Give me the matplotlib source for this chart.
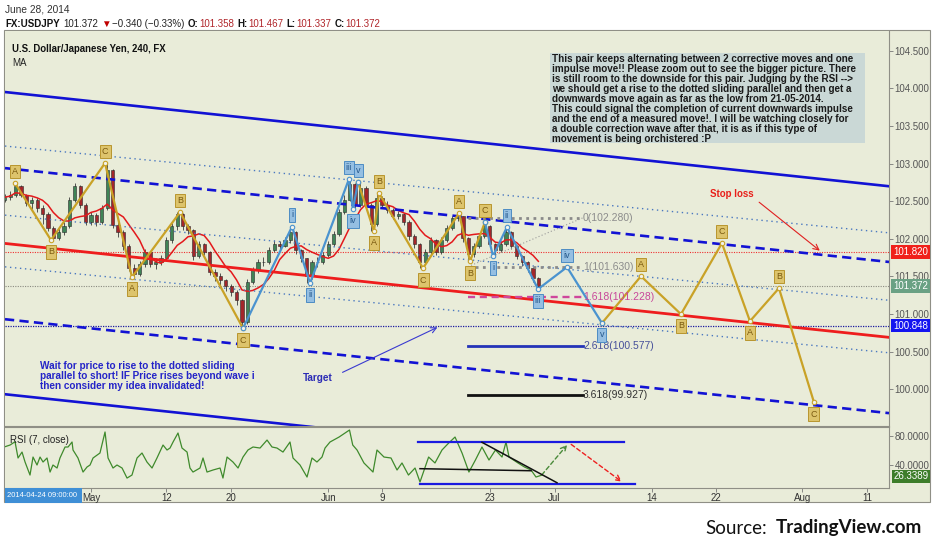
import numpy as np
import pandas as pd
import matplotlib
matplotlib.use("Agg")
import matplotlib.pyplot as plt
from matplotlib.patches import Rectangle

plt.rcParams['font.family'] = ['Liberation Sans', 'DejaVu Sans']

W, H = 932, 550
BG = '#e9ecd9'

# 12h candles, x = trading days from 2014-05-01
first_open = 102.52
closes = [
    102.554, 102.581, 102.701, 102.581, 102.475, 102.515, 102.408, 102.328, 102.142, 102.009,
    102.089, 102.169, 102.515, 102.701, 102.448, 102.222, 102.315, 102.222, 102.408, 102.914,
    102.182, 102.089, 101.903, 101.610, 101.531, 101.664, 101.823, 101.664, 101.690, 101.743,
    101.983, 102.169, 102.328, 102.169, 102.116, 101.770, 101.929, 101.823, 101.557, 101.504,
    101.451, 101.371, 101.291, 101.185, 100.892, 101.424, 101.584, 101.690, 101.690, 101.850,
    101.929, 101.903, 101.983, 102.089, 101.850, 101.743, 101.504, 101.690, 101.690, 101.783,
    101.929, 102.062, 102.355, 102.515, 102.727, 102.448, 102.674, 102.448, 102.195, 102.541,
    102.448, 102.382, 102.302, 102.328, 102.222, 102.036, 101.929, 101.690, 101.823, 101.983,
    101.823, 101.983, 102.142, 102.275, 102.302, 102.009, 101.797, 101.903, 102.036, 102.169,
    101.929, 101.850, 101.929, 102.089, 101.903, 101.770, 101.690, 101.610, 101.477, 101.372]
highs = [
    102.60, 102.64, 102.74, 102.72, 102.60, 102.56, 102.54, 102.45, 102.36, 102.17,
    102.14, 102.22, 102.55, 102.74, 102.71, 102.47, 102.36, 102.34, 102.45, 103.01,
    102.93, 102.22, 102.12, 101.93, 101.66, 101.70, 101.87, 101.84, 101.74, 101.79,
    102.02, 102.21, 102.36, 102.34, 102.20, 102.13, 101.97, 101.95, 101.84, 101.60,
    101.55, 101.47, 101.40, 101.32, 101.20, 101.46, 101.62, 101.73, 101.76, 101.89,
    101.98, 101.97, 102.03, 102.16, 102.10, 101.87, 101.75, 101.72, 101.76, 101.82,
    101.97, 102.10, 102.39, 102.58, 102.79, 102.74, 102.75, 102.70, 102.47, 102.61,
    102.57, 102.50, 102.41, 102.37, 102.35, 102.25, 102.06, 101.94, 101.86, 102.02,
    102.00, 102.02, 102.18, 102.31, 102.34, 102.31, 102.03, 101.94, 102.08, 102.22,
    102.18, 101.95, 101.97, 102.16, 102.10, 101.92, 101.79, 101.71, 101.63, 101.49]
lows = [
    102.49, 102.52, 102.56, 102.55, 102.43, 102.40, 102.36, 102.20, 102.10, 101.98,
    101.99, 102.05, 102.15, 102.49, 102.41, 102.18, 102.19, 102.17, 102.20, 102.38,
    102.14, 102.02, 101.85, 101.57, 101.49, 101.50, 101.63, 101.62, 101.60, 101.65,
    101.72, 101.95, 102.12, 102.12, 102.06, 101.72, 101.75, 101.78, 101.52, 101.44,
    101.39, 101.31, 101.24, 101.12, 100.81, 100.87, 101.40, 101.55, 101.64, 101.67,
    101.83, 101.86, 101.89, 101.95, 101.80, 101.69, 101.41, 101.47, 101.63, 101.66,
    101.76, 101.90, 102.04, 102.33, 102.50, 102.39, 102.42, 102.40, 102.10, 102.17,
    102.41, 102.34, 102.26, 102.27, 102.18, 101.99, 101.88, 101.61, 101.66, 101.80,
    101.78, 101.80, 101.96, 102.12, 102.24, 101.96, 101.70, 101.76, 101.88, 102.01,
    101.89, 101.77, 101.82, 101.91, 101.86, 101.73, 101.64, 101.56, 101.42, 101.337]

rsi_days = [
    -7.98, -7.51, -7.05, -6.77, -6.40, -6.12, -5.66, -5.38, -5.01, -4.73, -4.45, -4.08, -3.80, -3.53,
    -3.15, -2.88, -2.41, -2.13, -1.76, -1.67, -1.21, -0.74, -0.37, -0.09, 0.19, 0.83, 1.30, 1.58,
    2.04, 2.41, 2.88, 3.34, 3.80, 4.27, 4.73, 5.19, 5.66, 6.12, 6.68, 7.05, 7.33, 7.61, 8.07, 8.44,
    8.91, 9.18, 9.46, 10.11, 10.39, 10.76, 11.32, 11.97, 12.24, 12.62, 13.17, 13.64, 14.10, 14.56,
    15.03, 15.68, 16.33, 16.79, 17.25, 17.81, 18.46, 18.74, 19.39, 20.04, 20.50, 20.96, 21.43, 21.71,
    22.17, 23.01, 23.98, 24.28, 24.68, 25.32, 26.16, 26.53, 27.18, 27.83, 28.39, 28.85, 29.45, 30.06,
    30.52, 31.32, 31.91, 32.56, 33.18, 33.77, 34.42, 35.06, 35.66, 36.27, 36.92, 37.52, 38.13, 38.50,
    38.78, 39.61, 40.21, 40.82, 41.28, 41.84]
rsi_vals = [
    65.0, 67.3, 71.8, 49.6, 57.7, 44.1, 26.3, 50.9, 40.0, 50.9, 44.1, 49.6, 30.4, 40.0,
    35.9, 49.6, 64.6, 64.6, 71.4, 60.5, 49.6, 30.4, 37.3, 40.0, 49.6, 56.4, 85.1, 49.6,
    35.9, 40.0, 35.9, 22.2, 26.3, 49.6, 56.4, 44.1, 35.9, 49.6, 67.3, 60.5, 63.2, 71.4, 83.7, 63.2,
    57.7, 35.9, 30.4, 35.9, 49.6, 30.4, 33.2, 35.9, 22.2, 50.9, 44.1, 35.9, 50.9, 60.5,
    64.6, 63.2, 74.1, 64.6, 63.2, 57.7, 71.4, 49.6, 40.0, 23.6, 49.6, 44.1, 50.9, 63.2,
    71.4, 78.2, 87.8, 67.3, 60.5, 42.8, 30.4, 60.5, 50.9, 49.6, 33.2, 42.8, 26.3, 35.9,
    16.8, 50.9, 42.8, 60.5, 70.0, 78.2, 56.4, 30.4, 46.8, 64.6, 46.8, 60.5, 50.9, 71.4,
    50.9, 42.8, 37.3, 33.2, 23.6, 26.3]

tick_dates = ['2014-05-01', '2014-05-12', '2014-05-20', '2014-06-02', '2014-06-09', '2014-06-23',
              '2014-07-01', '2014-07-14', '2014-07-22', '2014-08-01', '2014-08-11']
tick_names = ['May', '12', '20', 'Jun', '9', '23', 'Jul', '14', '22', 'Aug', '11']

# elliott waves: (day, price, label, side)
gold_1 = [(-7.05, 102.740, 'A', 1), (-3.71, 101.983, 'B', -1), (1.30, 103.007, 'C', 1),
          (3.80, 101.491, 'A', -1), (8.26, 102.355, 'B', 1), (14.10, 100.812, 'C', -1)]
blue_1 = [(14.10, 100.812, '', 0), (18.65, 102.163, 'i', 1), (20.32, 101.411, 'ii', -1),
          (23.93, 102.794, 'iii', 1), (24.30, 102.395, 'iv', -1), (24.77, 102.754, 'v', 1)]
gold_2 = [(24.77, 102.754, '', 0), (26.25, 102.102, 'A', -1), (26.72, 102.607, 'B', 1),
          (30.80, 101.610, 'C', -1), (34.14, 102.341, 'A', 1), (35.16, 101.703, 'B', -1),
          (36.55, 102.222, 'C', 1)]
blue_2 = [(36.55, 102.222, '', 0), (37.29, 101.770, 'i', -1), (38.59, 102.156, 'ii', 1),
          (41.47, 101.332, 'iii', -1), (44.16, 101.625, 'iv', 1), (47.40, 100.880, 'v', -1)]
gold_3 = [(47.40, 100.880, '', 0), (51.02, 101.504, 'A', 1), (54.73, 100.999, 'B', -1),
          (58.53, 101.943, 'C', 1), (61.13, 100.906, 'A', -1), (63.82, 101.344, 'B', 1),
          (67.07, 99.828, 'C', -1)]

# channel lines (price at left edge, price at right edge)
x0, x1 = -7.98, 74.03
solid_blue = [(103.951, 102.699), (99.935, 98.683)]
dashed_blue = [(102.940, 101.693), (100.932, 99.684)]
red_line = (101.939, 100.691)
dotted_lines = [(103.233, 102.080), (102.315, 101.184), (101.628, 100.486)]

fib_levels = [102.280, 101.630, 101.228, 100.577, 99.927]
fib_names = ['0', '1', '1.618', '2.618', '3.618']
fib_colors = ['#8a8a8a', '#8a8a8a', '#cf479c', '#2433b8', '#111111']
fib_text_colors = ['#8c8c8c', '#8c8c8c', '#c8479a', '#46509a', '#333333']
fib_start, fib_end = 34.97, 45.64

last_price, ma_price, level_price = 101.372, 101.820, 100.848

days = -8 + 0.5 * np.arange(len(closes))
opens = [first_open] + closes[:-1]
ma = pd.Series(closes).rolling(7, min_periods=1).mean()

fig = plt.figure(figsize=(W / 100, H / 100), dpi=100, facecolor='white')
fig.add_artist(Rectangle((4 / W, 1 - 502 / H), 926 / W, 472 / H, transform=fig.transFigure,
                         fc=BG, ec='#8f8f86', lw=0.8, zorder=-1))

ax = fig.add_axes([5 / W, 1 - 426 / H, 884 / W, 395 / H])
rx = fig.add_axes([5 / W, 1 - 487.5 / H, 884 / W, 61 / H], sharex=ax)
for a in (ax, rx):
    a.set_facecolor(BG)
    a.spines['left'].set_visible(False)
    for s in ('right', 'bottom', 'top'):
        a.spines[s].set_color('#8f8f86')
        a.spines[s].set_linewidth(0.8)
ax.spines['top'].set_visible(False)
ax.set_xlim(x0, x1)
ax.set_ylim(99.513, 104.762)
rx.set_ylim(9.3, 92.6)

# candles
for d, o, c, hi, lo in zip(days, opens, closes, highs, lows):
    up = c >= o
    ax.vlines(d, lo, hi, color='#3b3b3b', lw=0.6, zorder=3)
    ax.bar(d, max(abs(c - o), 0.006), bottom=min(o, c), width=0.3,
           color='#3f8456' if up else '#a3262a', edgecolor='#2a2a2a', lw=0.4, zorder=3)
ax.plot(days, ma, color='#e3191c', lw=1.1, zorder=4)

# horizontal levels
ax.axhline(ma_price, color='#ee3030', lw=0.8, dashes=(1, 1.2), zorder=2)
ax.axhline(last_price, color='#8a8a80', lw=0.8, dashes=(1, 1.2), zorder=2)
ax.axhline(level_price, color='#1a1aa0', lw=0.9, dashes=(1, 1), zorder=2)

# channels
for p0, p1 in solid_blue:
    ax.plot([x0, x1], [p0, p1], color='#1212d4', lw=1.9, zorder=4)
for p0, p1 in dashed_blue:
    ax.plot([x0, x1], [p0, p1], color='#1212d4', lw=1.9, dashes=(3.5, 2), zorder=4)
ax.plot([x0, x1], list(red_line), color='#ee1d1d', lw=2.0, zorder=4)
for p0, p1 in dotted_lines:
    ax.plot([x0, x1], [p0, p1], color='#4a78c0', lw=1.0, dashes=(1, 2.6), zorder=4)

# fib extension
ax.plot([fib_start, fib_end], [fib_levels[1], fib_levels[0]], color='#9a9a9a', lw=0.8,
        dashes=(1, 2), zorder=4)
for lv, nm, col, tcol in zip(fib_levels, fib_names, fib_colors, fib_text_colors):
    if nm in ('0', '1'):
        ax.plot([fib_start, fib_end], [lv, lv], color=col, lw=2.0, dashes=(1, 1.6), zorder=4)
    elif nm == '1.618':
        ax.plot([fib_start, fib_end], [lv, lv], color=col, lw=1.7, dashes=(3, 2), zorder=4)
    else:
        ax.plot([fib_start, fib_end], [lv, lv], color=col, lw=2.0, zorder=4)
    ax.text(fib_end, lv, f'{nm}({lv:.3f})', color=tcol, fontsize=7.5, va='center', ha='left', zorder=6)

# waves
def draw_wave(pts, line_col, fc, ec, tc):
    xs = [p[0] for p in pts]
    ys = [p[1] for p in pts]
    ax.plot(xs, ys, color=line_col, lw=1.6, zorder=5)
    ax.plot(xs, ys, 'o', ms=3.2, mfc='#f2f2ea', mec=line_col, mew=0.8, zorder=6)
    for d, p, lab, side in pts:
        if lab:
            ax.annotate(lab, (d, p), xytext=(0, 8.5 * side), textcoords='offset points',
                        ha='center', va='center', fontsize=6.5, color=tc, zorder=7,
                        bbox=dict(boxstyle='square,pad=0.25', fc=fc, ec=ec, lw=0.7))

for w in (gold_1, gold_2, gold_3):
    draw_wave(w, '#c9a227', '#ddc46c', '#b8952e', '#7a5a10')
for w in (blue_1, blue_2):
    draw_wave(w, '#4a93cf', '#95bfe2', '#4d8cc4', '#24578a')

# arrows and notes
ax.annotate('', xy=(67.81, 101.82), xytext=(61.78, 102.51), zorder=6,
            arrowprops=dict(arrowstyle='->', color='#e02020', lw=0.8))
ax.text(59.46, 102.60, 'Stop loss', color='#e8201a', fontsize=7, fontweight='bold',
        ha='center', va='center', zorder=6)
ax.annotate('', xy=(32.37, 100.84), xytext=(23.1, 100.21), zorder=6,
            arrowprops=dict(arrowstyle='->', color='#3a3ad0', lw=0.8))
ax.text(21.06, 100.146, 'Target', color='#2b2bb5', fontsize=7.2, fontweight='bold',
        ha='center', va='center', zorder=6)
ax.text(-4.73, 100.38, 'Wait for price to rise to the dotted sliding\nparallel to short! IF Price rises beyond wave i\nthen consider my idea invalidated!',
        color='#2424c8', fontsize=7.2, fontweight='bold', ha='left', va='top', linespacing=1.0, zorder=6)

# price axis
ax.yaxis.tick_right()
yt = np.arange(100.0, 104.51, 0.5)
ax.set_yticks(yt)
ax.set_yticklabels([f'{v:.3f}' for v in yt])
ax.tick_params(axis='y', length=3, width=0.6, color='#777', labelsize=7, labelcolor='#555', pad=1)
ax.tick_params(axis='x', bottom=False, labelbottom=False)
for p, col in ((ma_price, '#f0201a'), (last_price, '#6aa184'), (level_price, '#1414f0')):
    ax.annotate(f'{p:.3f}', (1, p), xycoords=('axes fraction', 'data'), xytext=(3, 0),
                textcoords='offset points', ha='left', va='center', color='white', fontsize=7,
                annotation_clip=False, zorder=8,
                bbox=dict(boxstyle='square,pad=0.2', fc=col, ec='none'))

# RSI panel
rx.plot(rsi_days, rsi_vals, color='#3f8a2c', lw=0.9, zorder=3)
rx.plot([30.33, 49.44], [72.1, 72.1], color='#1a1ae0', lw=1.6, zorder=4)
rx.plot([30.52, 50.46], [14.1, 14.1], color='#1a1ae0', lw=1.6, zorder=4)
rx.plot([30.52, 40.82], [35.0, 32.2], color='#111', lw=1.1, zorder=4)
rx.plot([36.27, 43.23], [71.0, 15.8], color='#111', lw=1.1, zorder=4)
rx.annotate('', xy=(44.34, 70.4), xytext=(41.65, 23.6),
            arrowprops=dict(arrowstyle='->', color='#4a8a3a', lw=1.0, linestyle=(0, (3, 2))))
rx.annotate('', xy=(49.44, 15.0), xytext=(44.34, 70.4),
            arrowprops=dict(arrowstyle='->', color='#ee2020', lw=1.0, linestyle=(0, (3, 2))))
rx.text(0.006, 0.78, 'RSI (7, close)', transform=rx.transAxes, fontsize=7, color='#222', va='center')
rx.yaxis.tick_right()
rx.set_yticks([40, 80])
rx.set_yticklabels(['40.0000', '80.0000'])
rx.tick_params(axis='y', length=3, width=0.6, color='#777', labelsize=7, labelcolor='#555', pad=1)
rx.annotate('26.3389', (1, 26.3389), xycoords=('axes fraction', 'data'), xytext=(3, -1),
            textcoords='offset points', ha='left', va='center', color='white', fontsize=7,
            annotation_clip=False, bbox=dict(boxstyle='square,pad=0.15', fc='#3d7d2a', ec='none'))
tick_pos = np.busday_count('2014-05-01', tick_dates)
rx.set_xticks(tick_pos)
rx.set_xticklabels(tick_names)
rx.tick_params(axis='x', length=3, width=0.6, color='#777', labelsize=7, labelcolor='#333', pad=1)

# texts on figure
def fx(x):
    return x / W

def fy(y):
    return 1 - y / H

renderer = fig.canvas.get_renderer()

fig.text(fx(5), fy(9.5), 'June 28, 2014', fontsize=7.3, color='#333', va='center')
header = [('FX:USDJPY', 'bold', '#111', 4), ('101.372', 'normal', '#222', 2),
          ('\u25bc', 'normal', '#c00000', 2), ('\u22120.340 (\u22120.33%)', 'normal', '#222', 3),
          ('O:', 'bold', '#111', 1), ('101.358', 'normal', '#b0252a', 3),
          ('H:', 'bold', '#111', 1), ('101.467', 'normal', '#b0252a', 3),
          ('L:', 'bold', '#111', 1), ('101.337', 'normal', '#b0252a', 3),
          ('C:', 'bold', '#111', 1), ('101.372', 'normal', '#b0252a', 3)]
xpos = 5
for txt, wt, col, gap in header:
    t = fig.text(fx(xpos), fy(24), txt, fontsize=7, fontweight=wt, color=col, va='center')
    xpos = t.get_window_extent(renderer).x1 + gap

fig.text(fx(12), fy(49), 'U.S. Dollar/Japanese Yen, 240, FX', fontsize=6.9, fontweight='bold',
         color='#111', va='center', zorder=6)
fig.text(fx(12), fy(62.5), 'MA', fontsize=7, color='#222', va='center', zorder=6)

fig.add_artist(Rectangle((fx(550), fy(143)), 315 / W, 90 / H, transform=fig.transFigure,
                         fc='#cad8d6', ec='none', zorder=5))
note = ('This pair keeps alternating between 2 corrective moves and one\n'
        'impulse move!! Please zoom out to see the bigger picture. There\n'
        'is still room to the downside for this pair. Judging by the RSI -->\n'
        'we should get a rise to the dotted sliding parallel and then get a\n'
        'downwards move again as far as the low from 21-05-2014.\n'
        'This could signal the completion of current downwards impulse\n'
        'and the end of a measured move!. I will be watching closely for\n'
        'a double correction wave after that, it is as if this type of\n'
        'movement is being orchistered :P')
fig.text(fx(552), fy(54.5), note, fontsize=7.1, fontweight='bold', color='#1a1a1a',
         va='top', ha='left', linespacing=1.0, zorder=6)

fig.add_artist(Rectangle((fx(5), fy(503)), 77 / W, 15 / H, transform=fig.transFigure,
                         fc='#3f8fd6', ec='none', zorder=5))
fig.text(fx(7), fy(495.5), '2014-04-24 09:00:00', fontsize=5.5, color='white', va='center', zorder=6)

fig.text(fx(705), fy(528), 'Source:', fontsize=13.5, color='#111', va='center', family='Lato')
fig.text(fx(922), fy(528), 'TradingView.com', fontsize=13.5, color='#111', va='center',
         ha='right', fontweight='bold', family='Lato')

fig.savefig('out.png', dpi=100, facecolor='white')
